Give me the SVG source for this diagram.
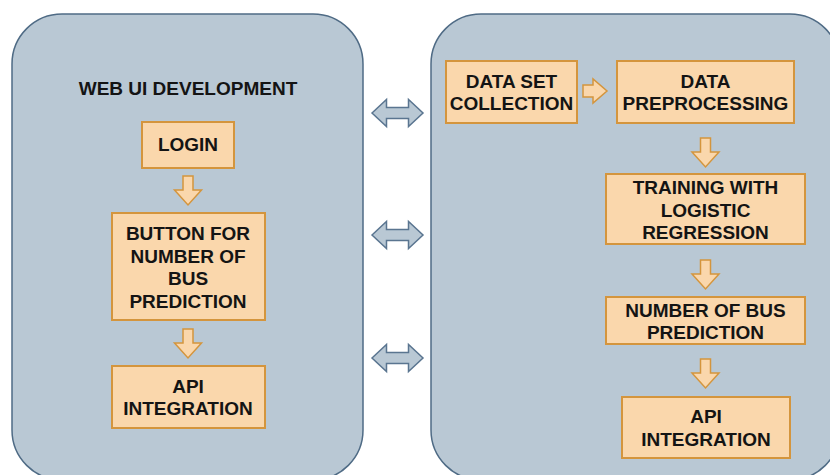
<svg xmlns="http://www.w3.org/2000/svg" width="830" height="475" viewBox="0 0 830 475">
  <style>
    .panel { fill: #b9c8d4; stroke: #4f6b85; stroke-width: 1.5; }
    .box { fill: #fad7ac; stroke: #d4953d; stroke-width: 2; }
    .flow { fill: #fad7ac; stroke: #d4953d; stroke-width: 1.5; stroke-linejoin: miter; }
    .link { fill: #b9c8d4; stroke: #5a7590; stroke-width: 1.5; }
    text { font-family: "Liberation Sans", Arial, Helvetica, sans-serif; font-weight: bold; font-size: 19px; fill: #141414; text-anchor: middle; }
  </style>
  <defs>
    <!-- downward block arrow, tip at (0,0) -->
    <path id="down" d="M -5 -29 L 5 -29 L 5 -15 L 13.5 -15 L 0 0 L -13.5 -15 L -5 -15 Z"/>
    <!-- two-headed horizontal block arrow, centred on (0,0) -->
    <path id="both" d="M -25.5 0 L -11 -13.5 L -11 -5.5 L 11 -5.5 L 11 -13.5 L 25.5 0 L 11 13.5 L 11 5.5 L -11 5.5 L -11 13.5 Z"/>
  </defs>

  <!-- containers -->
  <g id="web-ui">
    <rect class="panel" x="12" y="14" width="351" height="466" rx="50" ry="50"/>
    <text x="188" y="95">WEB UI DEVELOPMENT</text>
  </g>
  <g id="ml-pipeline">
    <rect class="panel" x="431" y="14" width="409" height="466" rx="50" ry="50"/>
  </g>

  <!-- web UI nodes -->
  <g id="login">
    <rect class="box" x="142" y="122" width="92" height="46"/>
    <text x="188" y="151">LOGIN</text>
  </g>
  <g id="predict-button">
    <rect class="box" x="112" y="213" width="153" height="107"/>
    <text x="188" y="240">BUTTON FOR</text>
    <text x="188" y="263">NUMBER OF</text>
    <text x="188" y="285">BUS</text>
    <text x="188" y="308">PREDICTION</text>
  </g>
  <g id="ui-api">
    <rect class="box" x="112" y="366" width="153" height="62"/>
    <text x="188" y="393">API</text>
    <text x="188" y="415">INTEGRATION</text>
  </g>

  <!-- pipeline nodes -->
  <g id="dataset">
    <rect class="box" x="446" y="61" width="131" height="62"/>
    <text x="511.5" y="88">DATA SET</text>
    <text x="511.5" y="110">COLLECTION</text>
  </g>
  <g id="preprocessing">
    <rect class="box" x="617" y="61" width="177" height="62"/>
    <text x="705.5" y="88">DATA</text>
    <text x="705.5" y="110">PREPROCESSING</text>
  </g>
  <g id="training">
    <rect class="box" x="606" y="174" width="199" height="70"/>
    <text x="705.5" y="194">TRAINING WITH</text>
    <text x="705.5" y="217">LOGISTIC</text>
    <text x="705.5" y="239">REGRESSION</text>
  </g>
  <g id="bus-prediction">
    <rect class="box" x="606" y="297" width="199" height="47"/>
    <text x="705.5" y="317">NUMBER OF BUS</text>
    <text x="705.5" y="339">PREDICTION</text>
  </g>
  <g id="ml-api">
    <rect class="box" x="622" y="397" width="168" height="61"/>
    <text x="706" y="423">API</text>
    <text x="706" y="446">INTEGRATION</text>
  </g>

  <!-- connectors -->
  <g id="connectors">
    <use href="#down" class="flow" x="188" y="205"/>
    <use href="#down" class="flow" x="188" y="358"/>
    <path class="flow" d="M 583 85 L 593 85 L 593 79 L 607 91 L 593 103 L 593 97 L 583 97 Z"/>
    <use href="#down" class="flow" x="705.5" y="167"/>
    <use href="#down" class="flow" x="705.5" y="289"/>
    <use href="#down" class="flow" x="705.5" y="388"/>
    <use href="#both" class="link" x="397.5" y="113"/>
    <use href="#both" class="link" x="397.5" y="235"/>
    <use href="#both" class="link" x="397.5" y="358"/>
  </g>
</svg>
